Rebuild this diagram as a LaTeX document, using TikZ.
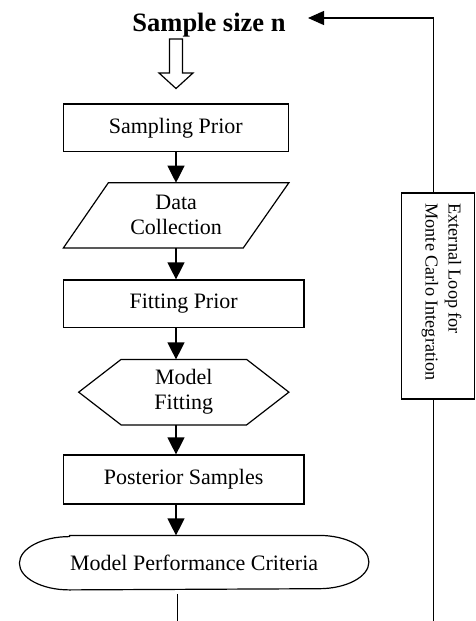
\documentclass[tikz,border=0pt]{standalone}
\usepackage{fontspec}
\setmainfont{Liberation Serif}
\usetikzlibrary{arrows.meta}
\begin{document}
\begin{tikzpicture}[x=1pt,y=-1pt, line width=1.2pt,
  box/.style={draw, rectangle, inner sep=0pt, font=\fontsize{22}{25}\selectfont, align=center},
  plain/.style={inner sep=0pt, font=\fontsize{22}{25}\selectfont, align=center},
  flow/.style={-{Triangle[width=17pt,length=17pt]}},
  back/.style={-{Triangle[width=14pt,length=16pt]}},
]
\useasboundingbox (0,0) rectangle (475,621);
\coordinate (axis) at (176,0);
% title
\node[anchor=base, inner sep=0pt, font=\fontsize{26.5}{30}\selectfont\bfseries] (title) at (209,31) {Sample size n};
% hollow arrow
\draw[line join=miter] (169.5,39) -- (182.5,39) -- (182.5,73) -- (193,73) -- (176,88.5) -- (159,73) -- (169.5,73) -- cycle;
% nodes
\node[box, minimum width=225pt, minimum height=47.7pt] (sp) at (175.8,127.9) {Sampling Prior};
\node[plain, minimum width=224.3pt, minimum height=64pt] (dc) at (176.15,215.3) {Data\\Collection};
\draw (dc.south west) -- ([xshift=45pt]dc.north west) -- (dc.north east) -- ([xshift=-45.6pt]dc.south east) -- cycle;
\node[box, minimum width=240.7pt, minimum height=47.7pt] (fp) at (183.65,303.85) {Fitting Prior};
\node[plain, minimum width=209pt, minimum height=64.3pt] (mf) at (183.8,392.15) {Model\\Fitting};
\draw (mf.west) -- ([xshift=42.4pt]mf.north west) -- ([xshift=-42.3pt]mf.north east) -- (mf.east) -- ([xshift=-42.3pt]mf.south east) -- ([xshift=42.4pt]mf.south west) -- cycle;
\node[box, minimum width=240.7pt, minimum height=49pt] (ps) at (183.65,479.5) {Posterior Samples};
\node[plain, minimum width=348.3pt, minimum height=53.3pt] (mpc) at (194.15,562.65) {Model Performance Criteria};
\draw ([xshift=50pt]mpc.north west) -- ([xshift=-50pt]mpc.north east)
  arc[start angle=90, end angle=-90, x radius=50pt, y radius=26.65pt]
  -- ([xshift=50pt]mpc.south west)
  arc[start angle=270, end angle=90, x radius=50pt, y radius=26.65pt] -- cycle;
% flow connectors
\draw[flow] (axis |- sp.south) -- (axis |- dc.north);
\draw[flow] (axis |- dc.south) -- (axis |- fp.north);
\draw[flow] (axis |- fp.south) -- (axis |- mf.north);
\draw[flow] (axis |- mf.south) -- (axis |- ps.north);
\draw[flow] (axis |- ps.south) -- (axis |- mpc.north);
\coordinate (bot) at (177.5,621);
\draw ([yshift=-4pt]mpc.south -| bot) -- (bot);
% external loop
\node[draw, inner sep=0pt, minimum width=72.8pt, minimum height=206pt] (loop) at (438.1,296) {};
\node[rotate=-90, anchor=west, align=left, inner sep=0pt, font=\fontsize{18.2}{23}\selectfont] (looptext) at (441.5,203) {External Loop for\\Monte Carlo Integration};
\coordinate (rb) at (433.5,621);
\coordinate (tip) at (308,18);
\draw (rb) -- (rb |- loop.south);
\draw[back] (rb |- loop.north) |- (tip);
\end{tikzpicture}
\end{document}
